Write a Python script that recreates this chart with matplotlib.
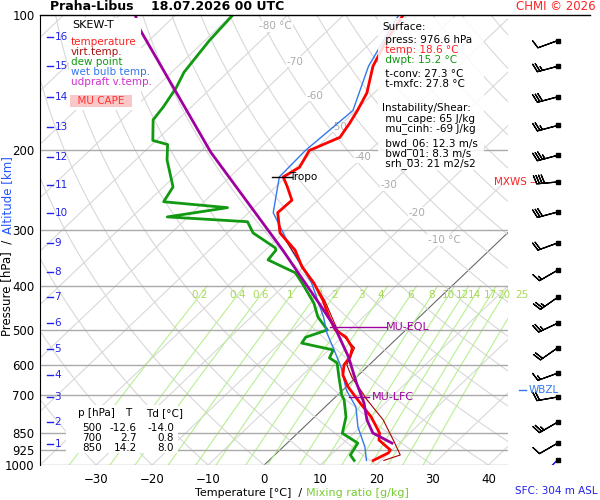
import numpy as np
import matplotlib
matplotlib.use("Agg")
import matplotlib.pyplot as plt
from matplotlib.lines import Line2D

# --- sounding values ---
t_p = [977, 940, 926, 880, 849, 782, 728, 671, 631, 599, 575, 549, 520, 501, 469, 430,
       394, 363, 333, 305, 275, 258, 241, 229, 218, 200, 187, 174, 163, 149, 130, 114, 100]
t_c = [18.6, 19.9, 19.7, 15.8, 14.6, 10.1, 5.5, 0.4, -2.8, -4.5, -4.9, -6.2, -9.3, -12.6,
       -16.1, -20.4, -25.2, -30.3, -34.7, -40.6, -44.8, -44.6, -47.9, -50.5, -49.4, -50.8,
       -47.8, -48.7, -49.7, -51.3, -55.2, -57.6, -59.4]
td_p = [977, 950, 894, 850, 782, 717, 700, 638, 593, 578, 555, 536, 520, 501, 469, 437,
        394, 374, 363, 350, 333, 329, 305, 288, 281, 268, 260, 241, 210, 194, 190, 171,
        160, 145, 134, 114, 100]
td_c = [15.2, 13.5, 12.6, 8.0, 5.6, 2.1, 0.8, -3.1, -6.1, -8.4, -9.2, -16.1, -16.5, -14.0,
        -18.1, -21.4, -27.3, -30.4, -33.7, -37.7, -38.1, -38.7, -45.4, -48.5, -63.7, -54.7,
        -67.2, -68.3, -74.4, -77.2, -80.6, -84.4, -85.0, -86.3, -87.8, -89.2, -89.8]
tv_p = [977, 950, 889, 794, 717, 638, 599, 549, 501, 430, 363, 305]
tv_c = [20.5, 22.4, 18.9, 12.8, 6.2, -0.8, -4.0, -5.8, -12.2, -20.1, -30.1, -40.5]
tw_p = [977, 912, 823, 743, 681, 606, 547, 509, 469, 394, 333, 275, 229, 200, 163, 130, 100]
tw_c = [17.4, 14.6, 9.6, 5.5, 0.6, -4.6, -9.8, -13.5, -17.1, -25.6, -35.3, -45.6,
        -51.2, -51.5, -50.5, -56.0, -60.2]
par_p = [894, 849, 794, 728, 657, 575, 494, 445, 374, 333, 202, 108, 100]
par_c = [18.7, 13.4, 9.9, 6.2, 1.1, -5.2, -13.2, -19.4, -29.9, -36.9, -68.0, -103.5, -107.2]

barb_p = [114, 130, 152, 176, 205, 235, 274, 321, 369, 424, 484, 549, 625, 706, 803, 894, 974]
barb_kt = [10, 25, 30, 25, 35, 40, 30, 20, 15, 25, 25, 20, 15, 20, 25, 10, 5]
barb_dir = [250, 255, 255, 255, 255, 265, 255, 250, 240, 235, 245, 235, 250, 260, 240, 240, 225]

alt_km = list(range(1, 17))
alt_p = [898, 803, 706, 631, 552, 483, 423, 373, 321, 275, 239, 207, 177, 152, 130, 112]

mix_w = [0.2, 0.4, 0.6, 1, 1.5, 2, 3, 4, 6, 8, 10, 12, 14, 17, 20, 25]
mix_lbl = ['0.2', '0.4', '0.6', '1', '1.4', '2', '3', '4', '6', '8', '10', '12', '14', '17', '20', '25']

SK = 84.2
FS = 7.5


def skx(t, p):
    return np.asarray(t, float) + SK * np.log10(1000.0 / np.asarray(p, float))


def px(x, y):
    # pixel position -> figure fraction
    return x / 600, 1 - y / 500


fig = plt.figure(figsize=(6, 5), dpi=100)
ax = fig.add_axes([40 / 600, 35 / 500, 468 / 600, 450 / 500])
ax.set_yscale('log')
ax.set_ylim(1000, 100)
ax.set_xlim(-40, 43.5)
for s in ['top', 'right', 'bottom']:
    ax.spines[s].set_visible(False)

pp = np.logspace(2, 3, 200)
# isotherms
for t in range(-160, 50, 10):
    ax.plot(skx(t, pp), pp, color='#d8d8d8', lw=0.8, zorder=1)
ax.plot(skx(0, pp), pp, color='#666666', lw=0.7, zorder=1)
# dry adiabats
for th in range(-40, 230, 10):
    tt = (th + 273.15) * (pp / 1000.0) ** 0.286 - 273.15
    ax.plot(skx(tt, pp), pp, color='#d8d8d8', lw=0.8, zorder=1)
# mixing ratio lines
pm = np.linspace(1000, 400, 50)
for w, lb in zip(mix_w, mix_lbl):
    e = w * pm / (622 + w)
    a = np.log(e / 6.112)
    td = 243.5 * a / (17.67 - a)
    ax.plot(skx(td, pm), pm, color='#b9ef8f', lw=0.8, zorder=1)
    e4 = w * 420 / (622 + w)
    a4 = np.log(e4 / 6.112)
    ax.text(skx(243.5 * a4 / (17.67 - a4), 420), 420, lb, color='#a8d858',
            fontsize=FS, ha='center', va='center', zorder=2)
# isobars
for p in [1000, 925, 850, 700, 600, 500, 400, 300, 200]:
    ax.axhline(p, color='#aaaaaa', lw=1, zorder=1)
# isotherm labels
for t, p in zip(range(-80, 0, 10), [106, 127, 151, 177, 207, 239, 275, 316]):
    lb = '%d °C' % t if t in (-80, -10) else '%d' % t
    ax.text(skx(t, p), p, lb, color='#aaaaaa', fontsize=FS, ha='center', va='center',
            bbox=dict(fc='white', ec='none', pad=0.5), zorder=2)

# CAPE shading
pc = np.linspace(720, 625, 30)
xpar = np.interp(np.log(pc), np.log(par_p[::-1]), skx(par_c, par_p)[::-1])
xtv = np.interp(np.log(pc), np.log(tv_p[::-1]), skx(tv_c, tv_p)[::-1])
ax.fill_betweenx(pc, xtv, np.maximum(xpar, xtv), color='#f4c8c0', zorder=2)

ax.plot(skx(td_c, td_p), td_p, color='#119911', lw=2, zorder=4)
ax.plot(skx(tw_c, tw_p), tw_p, color='#3377ee', lw=1, zorder=4)
ax.plot(skx(tv_c, tv_p), tv_p, color='#aa0000', lw=0.8, zorder=4)
ax.plot(skx(t_c, t_p), t_p, color='#ff0000', lw=2, zorder=5)
ax.plot(skx(par_c, par_p), par_p, color='#a000a0', lw=2, zorder=6)

# tropopause
ax.plot([skx(-52.5, 229), skx(-49, 229)], [229, 229], color='black', lw=1, zorder=7)
ax.text(skx(-49.5, 229), 229, 'Tropo', fontsize=FS, va='center', zorder=7)
# levels
ax.plot([skx(-14, 494), skx(-4, 494)], [494, 494], color='#a000a0', lw=1, zorder=7)
ax.text(skx(-5, 494) + 1, 494, 'MU-EQL', color='#a000a0', fontsize=8, va='center')
ax.plot([skx(2.5, 707), skx(6, 707)], [707, 707], color='#a000a0', lw=1, zorder=7)
ax.text(skx(6, 707) + 0.5, 707, 'MU-LFC', color='#a000a0', fontsize=8, va='center')

ax.set_xticks(range(-30, 41, 10))
ax.tick_params(axis='x', length=0, labelsize=8.5, pad=6)
ax.set_yticks([1000, 925, 850, 700, 600, 500, 400, 300, 200, 100])
ax.set_yticklabels(['1000', '925', '850', '700', '600', '500', '400', '300', '200', '100'])
ax.yaxis.set_minor_locator(plt.NullLocator())
ax.tick_params(axis='y', length=0, labelsize=8.5, pad=4)

# altitude ticks
for km, p in zip(alt_km, alt_p):
    ax.plot([-38.7, -37.6], [p, p], color='#2222ee', lw=1, clip_on=False, zorder=7)
    ax.text(-37.4, p, str(km), color='#2222ee', fontsize=FS, va='center')

# legend
fig.patches.append(plt.Rectangle((69 / 600, 1 - 110 / 500), 72 / 600, 92 / 500,
                                 transform=fig.transFigure, fc='white', ec='none', zorder=0.5))
fig.text(*px(72, 25), 'SKEW-T', fontsize=8, va='center')
for i, (lb, c) in enumerate([('temperature', '#ff2222'), ('virt.temp.', '#aa1111'),
                             ('dew point', '#119911'), ('wet bulb temp.', '#3377ee'),
                             ('udpraft v.temp.', '#cc33cc')]):
    fig.text(*px(71, 42 + 10 * i), lb, color=c, fontsize=FS, va='center')
fig.text(*px(71, 101), '  MU CAPE  ', color='#ff3333', fontsize=FS, va='center',
         bbox=dict(fc='#f8c8c8', ec='none', pad=0.6))

# surface / instability box
fig.patches.append(plt.Rectangle((378 / 600, 1 - 170 / 500), 106 / 600, 152 / 500,
                                 transform=fig.transFigure, fc='white', ec='none', alpha=0.85, zorder=0.5))
info = [('Surface:', 'black', 27), (' press: 976.6 hPa', 'black', 40), (' temp: 18.6 °C', '#ff2222', 50),
        (' dwpt: 15.2 °C', '#119911', 60), (' t-conv: 27.3 °C', 'black', 74),
        (' t-mxfc: 27.8 °C', 'black', 84), ('Instability/Shear:', 'black', 108),
        (' mu_cape: 65 J/kg', 'black', 119), (' mu_cinh: -69 J/kg', 'black', 129),
        (' bwd_06: 12.3 m/s', 'black', 144), (' bwd_01: 8.3 m/s', 'black', 154),
        (' srh_03: 21 m2/s2', 'black', 164)]
for txt, c, yy in info:
    fig.text(*px(382, yy), txt, color=c, fontsize=FS, va='center')

# table
fig.patches.append(plt.Rectangle((66 / 600, 1 - 453 / 500), 112 / 600, 48 / 500,
                                 transform=fig.transFigure, fc='white', ec='none', zorder=0.5))
fig.text(*px(78, 413), 'p [hPa]', fontsize=FS, va='center')
fig.text(*px(125, 413), 'T', fontsize=FS, va='center')
fig.text(*px(146, 413), 'Td [°C]', fontsize=FS, va='center')
for i, row in enumerate([('500', '-12.6', '-14.0'), ('700', '2.7', '0.8'), ('850', '14.2', '8.0')]):
    yy = 428 + 10 * i
    fig.text(*px(102, yy), row[0], fontsize=FS, ha='right', va='center')
    fig.text(*px(137, yy), row[1], fontsize=FS, ha='right', va='center')
    fig.text(*px(174, yy), row[2], fontsize=FS, ha='right', va='center')

# wind barbs
bx = fig.add_axes([508 / 600, 35 / 500, 92 / 600, 450 / 500])
bx.set_yscale('log')
bx.set_ylim(1000, 100)
bx.set_xlim(0, 1)
bx.axis('off')
d = np.radians(barb_dir)
u = -np.array(barb_kt) * np.sin(d)
v = -np.array(barb_kt) * np.cos(d)
cols = ['black'] * (len(barb_p) - 1) + ['#2222ee']
bx.barbs(np.full(len(barb_p), 0.54), barb_p, u, v, color=cols, length=5.5, lw=0.9)
bx.plot(np.full(len(barb_p), 0.54), barb_p, 's', ms=2.5, color='black')
bx.text(0.3, 235, 'MXWS –', color='#ff2222', fontsize=FS, ha='right', va='center')
bx.text(0.22, 680, 'WBZL', color='#3377ee', fontsize=FS, va='center')
bx.plot([0.12, 0.2], [680, 680], color='#3377ee', lw=1)

# titles and labels
fig.text(*px(50, 7), 'Praha-Libus    18.07.2026 00 UTC', fontsize=9, fontweight='bold', va='center')
fig.text(*px(596, 7), 'CHMI © 2026', fontsize=8.5, color='#ff2222', ha='right', va='center')
fig.add_artist(Line2D([40 / 600, 590 / 600], [1 - 15 / 500] * 2, color='black', lw=1))
fig.text(*px(1, 336), 'Pressure [hPa]  /', rotation=90, fontsize=8.5, ha='left', va='bottom')
fig.text(*px(1, 234), 'Altitude [km]', rotation=90, fontsize=8.5, color='#2255ff',
         ha='left', va='bottom')
fig.text(*px(195, 493), 'Temperature [°C]  /', fontsize=8, va='center')
fig.text(*px(306, 493), 'Mixing ratio [g/kg]', fontsize=8, color='#77cc33', va='center')
fig.text(*px(598, 491), 'SFC: 304 m ASL', fontsize=FS, color='#2222ee', ha='right', va='center')

fig.savefig('out.png', dpi=100)
